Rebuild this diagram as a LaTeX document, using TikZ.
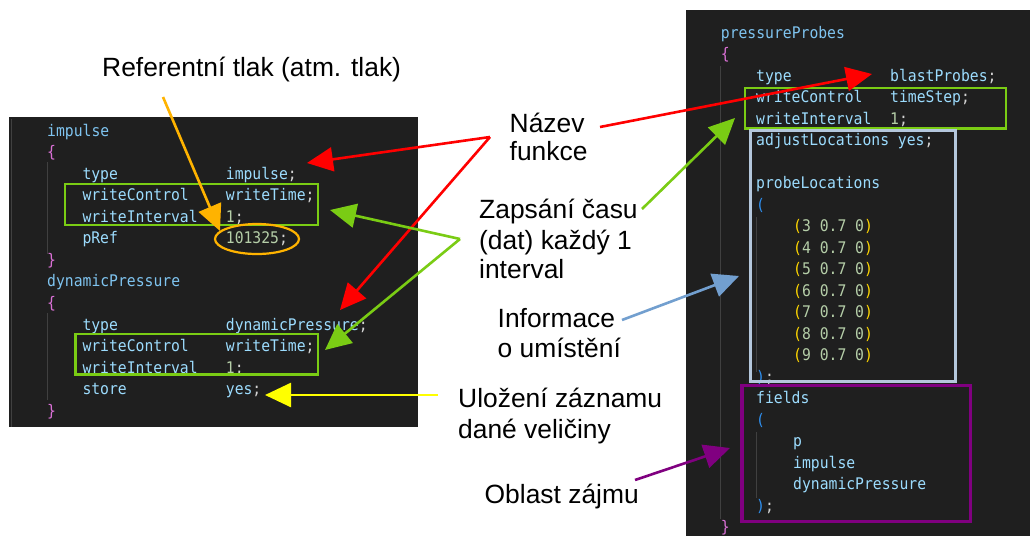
\documentclass[tikz,border=0pt]{standalone}
\usepackage{fontspec}
\setmainfont{Liberation Sans}
\newfontfamily\codefont[FakeStretch=0.92]{DejaVu Sans Mono}
\usetikzlibrary{arrows.meta}
\definecolor{panel}{HTML}{1F1F1F}
\definecolor{guide}{HTML}{404040}
\definecolor{ckey}{HTML}{9CDCFE}
\definecolor{chead}{HTML}{7FC4F0}
\definecolor{cnum}{HTML}{B5CEA8}
\definecolor{cpun}{HTML}{D4D4D4}
\definecolor{cbrace}{HTML}{DA70D6}
\definecolor{cpar}{HTML}{FFD700}
\definecolor{cblue}{HTML}{2E8FEF}
\definecolor{agreen}{HTML}{7ACC14}
\definecolor{ared}{HTML}{FF0000}
\definecolor{aorange}{HTML}{FFB300}
\definecolor{ayellow}{HTML}{FFFF00}
\definecolor{ablue}{HTML}{729FCF}
\definecolor{apurple}{HTML}{800080}
\definecolor{boxblue}{HTML}{B4C7DC}
\newcommand{\kw}[1]{\textcolor{ckey}{#1}}
\newcommand{\nm}[1]{\textcolor{cnum}{#1}}
\newcommand{\pu}[1]{\textcolor{cpun}{#1}}
\newcommand{\probe}[1]{\textcolor{cpar}{(}\nm{#1 0.7 0}\textcolor{cpar}{)}}
\begin{document}
\begin{tikzpicture}[x=1pt,y=-1pt,
  code/.style={font=\codefont\fontsize{16}{18}\selectfont, anchor=base west, inner sep=0pt, text=ckey},
  note/.style={font=\fontsize{26.4}{30}\selectfont, anchor=base west, inner sep=0pt, text=black},
  arr/.style={line width=2.6pt, -{Triangle[length=26pt,width=24pt]}},
  guideline/.style={draw=guide, line width=1pt},
  hl/.style={line width=2.6pt}]
\useasboundingbox (0,0) rectangle (1030,536);
\fill[white] (0,0) rectangle (1030,536);
% panels
\fill[panel] (9,117) rectangle (418,427);
\fill[panel] (686,10) rectangle (1030,536);
% indent guides
\draw[guideline] (11.5,119) -- (11.5,427);
\draw[guideline] (47.5,162) -- (47.5,254);
\draw[guideline] (47.5,313) -- (47.5,400);
\draw[guideline] (720.5,66) -- (720.5,519);
\draw[guideline] (756.5,217) -- (756.5,372);
\draw[guideline] (756.5,432) -- (756.5,498);
% left code
\node[code, text=chead] (a0) at (47,136) {impulse};
\node[code, text=cbrace] (a1) at (47,157.5) {\{};
\node[code] (a2) at (82.3,179) {type};
\node[code] (a2v) at (225.7,179) {impulse\pu{;}};
\node[code] (a3) at (82.3,200.6) {writeControl};
\node[code] (a3v) at (225.7,200.6) {writeTime\pu{;}};
\node[code] (a4) at (82.3,222.2) {writeInterval};
\node[code] (a4v) at (225.7,222.2) {\nm{1}\pu{;}};
\node[code] (a5) at (82.3,243.7) {pRef};
\node[code] (a5v) at (225.7,243.7) {\nm{101325}\pu{;}};
\node[code, text=cbrace] (a6) at (47,265.3) {\}};
\node[code, text=chead] (a7) at (47,286.8) {dynamicPressure};
\node[code, text=cbrace] (a8) at (47,308.4) {\{};
\node[code] (a9) at (82.3,330) {type};
\node[code] (a9v) at (225.7,330) {dynamicPressure\pu{;}};
\node[code] (a10) at (82.3,351.5) {writeControl};
\node[code] (a10v) at (225.7,351.5) {writeTime\pu{;}};
\node[code] (a11) at (82.3,373) {writeInterval};
\node[code] (a11v) at (225.7,373) {\nm{1}\pu{;}};
\node[code] (a12) at (82.3,394.6) {store};
\node[code] (a12v) at (225.7,394.6) {yes\pu{;}};
\node[code, text=cbrace] (a13) at (47,416) {\}};
% right code
\node[code, text=chead] (b0) at (720.7,38) {pressureProbes};
\node[code, text=cbrace] (b1) at (720.7,59.5) {\{};
\node[code] (b2) at (756,81) {type};
\node[code] (b2v) at (890,81) {blastProbes\pu{;}};
\node[code] (b3) at (756,102.5) {writeControl};
\node[code] (b3v) at (890,102.5) {timeStep\pu{;}};
\node[code] (b4) at (756,124) {writeInterval};
\node[code] (b4v) at (890,124) {\nm{1}\pu{;}};
\node[code] (b5) at (756,145.5) {adjustLocations yes\pu{;}};
\node[code] (b7) at (756,188.5) {probeLocations};
\node[code, text=cblue] (b8) at (756,210) {(};
\node[code] (p3) at (793,231.5) {\probe{3}};
\node[code] (p4) at (793,253) {\probe{4}};
\node[code] (p5) at (793,274.5) {\probe{5}};
\node[code] (p6) at (793,296) {\probe{6}};
\node[code] (p7) at (793,317.5) {\probe{7}};
\node[code] (p8) at (793,339) {\probe{8}};
\node[code] (p9) at (793,360.5) {\probe{9}};
\node[code] (b16) at (756,382) {\textcolor{cblue}{)}\pu{;}};
\node[code] (b17) at (756,403.5) {fields};
\node[code, text=cblue] (b18) at (756,425) {(};
\node[code] (f1) at (793,446.5) {p};
\node[code] (f2) at (793,468) {impulse};
\node[code] (f3) at (793,489.5) {dynamicPressure};
\node[code] (b22) at (756,511) {\textcolor{cblue}{)}\pu{;}};
\node[code, text=cbrace] (b23) at (720.7,532.5) {\}};
% highlight boxes
\draw[agreen, hl] (65,184) rectangle (318,225);
\draw[agreen, hl] (75.5,334) rectangle (318,374.5);
\draw[aorange, line width=2.2pt] (257,239) ellipse [x radius=42, y radius=15];
\draw[agreen, hl] (745,88) rectangle (1006,128.5);
\draw[boxblue, line width=3pt] (750.5,130.5) rectangle (955,381);
\draw[apurple, line width=3.5pt] (742,385.5) rectangle (970.5,521.5);
% annotation texts
\node[note] (t1) at (102,76) {Referentní tlak (atm. tlak)};
\node[note] (t2a) at (509.5,132) {Název};
\node[note] (t2b) at (509.5,160) {funkce};
\node[note] (t3a) at (479,218) {Zapsání času};
\node[note] (t3b) at (479,249.5) {(dat) každý 1};
\node[note] (t3c) at (479,278.5) {interval};
\node[note] (t4a) at (497.5,327) {Informace};
\node[note] (t4b) at (497.5,357) {o umístění};
\node[note] (t5a) at (458,407) {Uložení záznamu};
\node[note] (t5b) at (458,438) {dané veličiny};
\node[note] (t6) at (484.5,503) {Oblast zájmu};
% arrow anchor coordinates
\coordinate (oS) at (163,97);
\coordinate (oT) at (220,231);
\coordinate (rS) at (490,137);
\coordinate (rT1) at (307,163);
\coordinate (rT2) at (340,310);
\coordinate (rS2) at (600,127);
\coordinate (rT3) at (872,74);
\coordinate (gS) at (460,239);
\coordinate (gT1) at (330,210);
\coordinate (gT2) at (325,350);
\coordinate (gS2) at (642,209);
\coordinate (gT3) at (735,118);
\coordinate (bS) at (622,320);
\coordinate (bT) at (739,276);
\coordinate (yS) at (438,395);
\coordinate (yT) at (265,395);
\coordinate (pS) at (635,480);
\coordinate (pT) at (730,448);
% arrows
\draw[arr, aorange] (oS) -- (oT);
\draw[arr, ared] (rS) -- (rT1);
\draw[arr, ared] (rS) -- (rT2);
\draw[arr, ared] (rS2) -- (rT3);
\draw[arr, agreen] (gS) -- (gT1);
\draw[arr, agreen] (gS) -- (gT2);
\draw[arr, agreen] (gS2) -- (gT3);
\draw[arr, ablue] (bS) -- (bT);
\draw[arr, ayellow] (yS) -- (yT);
\draw[arr, apurple] (pS) -- (pT);
\end{tikzpicture}
\end{document}
